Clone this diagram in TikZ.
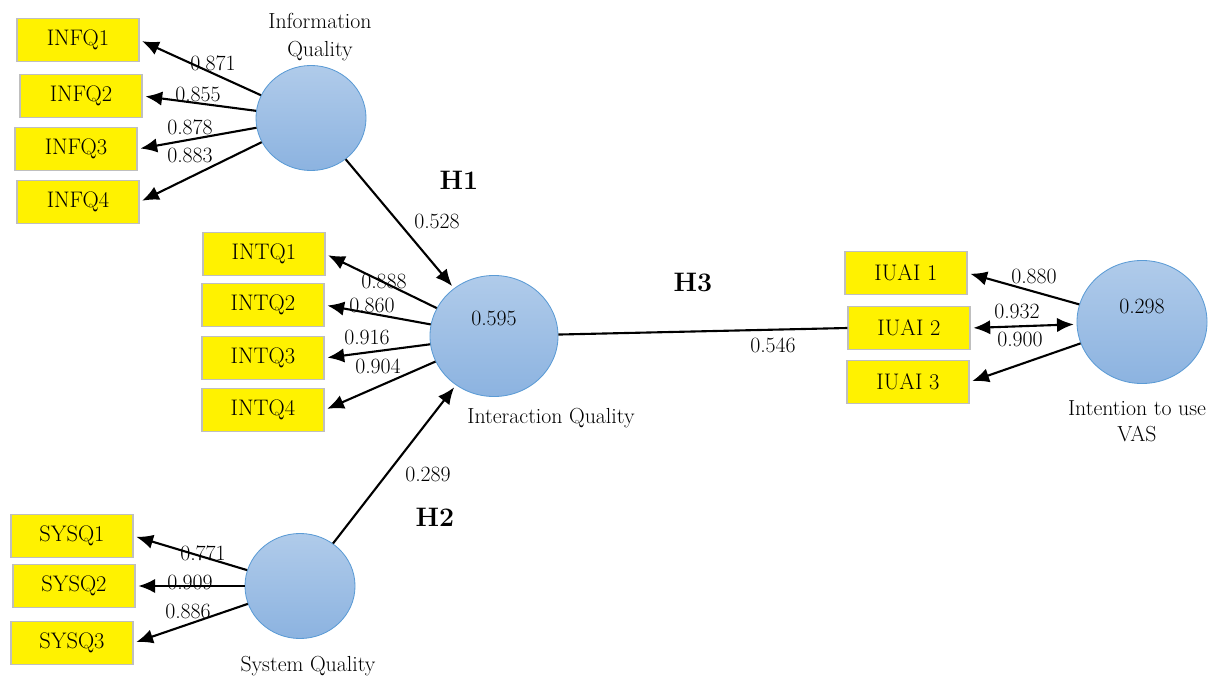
\documentclass[tikz,border=0pt]{standalone}
\usetikzlibrary{arrows.meta,shapes.geometric}
\definecolor{cblue}{RGB}{91,155,213}
\definecolor{ctop}{RGB}{176,203,234}
\definecolor{cbot}{RGB}{140,179,224}
\begin{document}
\begin{tikzpicture}[x=0.025cm,y=-0.025cm,
  item/.style={draw=black!25,line width=0.8pt,fill=yellow,minimum width=3.05cm,minimum height=1.075cm,inner sep=0pt,font=\fontsize{16}{18}\selectfont},
  construct/.style={ellipse,draw=cblue,line width=0.6pt,top color=ctop,bottom color=cbot,inner sep=0pt},
  load/.style={-{Latex[length=4.2mm,width=3.6mm]},line width=1.5pt,shorten >=2pt},
  num/.style={font=\fontsize{15.5}{17}\selectfont,inner sep=0pt},
  hyp/.style={font=\fontsize{19}{22}\selectfont\bfseries,inner sep=0pt}]
\useasboundingbox (0,0) rectangle (1212,677);
\node[construct,minimum width=2.75cm,minimum height=2.625cm] (info) at (311,118) {};
\node[construct,minimum width=3.2cm,minimum height=3.025cm] (inter) at (494,336) {};
\node[construct,minimum width=2.75cm,minimum height=2.625cm] (sys) at (300,586) {};
\node[construct,minimum width=3.25cm,minimum height=3.075cm] (vas) at (1142,322) {};
\node[num] (interR) at (494,318) {0.595};
\node[num] (vasR) at (1142,306) {0.298};
\node[num,align=center,font=\fontsize{15.5}{20}\selectfont] (infoLab) at (320,37) {Information\\Quality};
\node[num] (interLab) at (551,418) {Interaction Quality};
\node[num] (sysLab) at (308,666) {System Quality};
\node[num,align=center,font=\fontsize{15.5}{18.5}\selectfont] (vasLab) at (1137,421) {Intention to use\\VAS};
\node[item] (infq1) at (78,40) {INFQ1};
\node[item] (infq2) at (81,96) {INFQ2};
\node[item] (infq3) at (76,149) {INFQ3};
\node[item] (infq4) at (78,202) {INFQ4};
\node[item] (intq1) at (264,254) {INTQ1};
\node[item] (intq2) at (263,305) {INTQ2};
\node[item] (intq3) at (263,358) {INTQ3};
\node[item] (intq4) at (263,410) {INTQ4};
\node[item] (sysq1) at (72,536) {SYSQ1};
\node[item] (sysq2) at (74,586) {SYSQ2};
\node[item] (sysq3) at (72,643) {SYSQ3};
\node[item] (iuai1) at (906,273) {IUAI 1};
\node[item] (iuai2) at (909,328) {IUAI 2};
\node[item] (iuai3) at (908,382) {IUAI 3};
\draw[load] (info) -- (infq1.east);
\draw[load] (info) -- (infq2.east);
\draw[load] (info) -- (infq3.east);
\draw[load] (info) -- (infq4.east);
\draw[load] (inter) -- (intq1.east);
\draw[load] (inter) -- (intq2.east);
\draw[load] (inter) -- (intq3.east);
\draw[load] (inter) -- (intq4.east);
\draw[load] (sys) -- (sysq1.east);
\draw[load] (sys) -- (sysq2.east);
\draw[load] (sys) -- (sysq3.east);
\draw[load] (vas) -- (iuai1.east);
\draw[load,{Latex[length=4.2mm,width=3.6mm]}-{Latex[length=4.2mm,width=3.6mm]},shorten <=2pt] (vas) -- (iuai2.east);
\draw[load] (vas) -- (iuai3.east);
\draw[load] (info) -- (inter);
\draw[load] (sys) -- (inter);
\draw[line width=1.5pt] (inter) -- (iuai2.west);
\node[num] (l1) at (213,63) {0.871};
\node[num] (l2) at (198,94) {0.855};
\node[num] (l3) at (190,127) {0.878};
\node[num] (l4) at (190,155) {0.883};
\node[num] (l5) at (384,281) {0.888};
\node[num] (l6) at (372,305) {0.860};
\node[num] (l7) at (367,337) {0.916};
\node[num] (l8) at (378,366) {0.904};
\node[num] (l9) at (203,553) {0.771};
\node[num] (l10) at (190,582) {0.909};
\node[num] (l11) at (188,611) {0.886};
\node[num] (l12) at (1034,276) {0.880};
\node[num] (l13) at (1017,311) {0.932};
\node[num] (l14) at (1020,339) {0.900};
\node[num] (p1) at (437,221) {0.528};
\node[num] (p2) at (428,474) {0.289};
\node[num] (p3) at (773,345) {0.546};
\node[hyp] (h1) at (459,180) {H1};
\node[hyp] (h2) at (435,517) {H2};
\node[hyp] (h3) at (693,282) {H3};
\end{tikzpicture}
\end{document}
